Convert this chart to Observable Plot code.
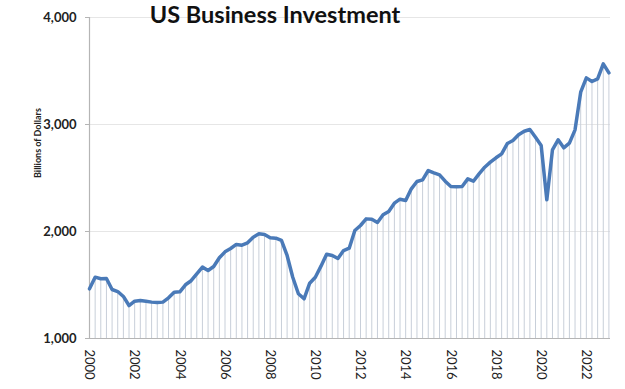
<!DOCTYPE html>
<html>
<head>
<meta charset="utf-8">
<script src="https://cdn.jsdelivr.net/npm/d3@7"></script>
<script src="https://cdn.jsdelivr.net/npm/@observablehq/plot@0.6"></script>
<style>
  html, body { margin: 0; padding: 0; background: #fff; }
  #chart { position: relative; width: 625px; height: 389px; }
</style>
</head>
<body>
<div id="chart"></div>
<script>
const title = "US Business Investment";
const yLabel = "Billions of Dollars";
const startYear = 2000;
// quarterly values, 2000Q1 .. 2023Q1 (billions of dollars)
const values = [
  1464, 1573, 1558, 1561,
  1458, 1439, 1393, 1308,
  1349, 1355, 1349, 1340,
  1336, 1340, 1380, 1433,
  1436, 1502, 1540, 1604,
  1667, 1636, 1673, 1754,
  1810, 1841, 1879, 1872,
  1894, 1947, 1978, 1972,
  1941, 1938, 1916, 1776,
  1573, 1418, 1371, 1517,
  1573, 1676, 1788, 1776,
  1748, 1822, 1844, 2009,
  2056, 2118, 2115, 2084,
  2156, 2187, 2265, 2302,
  2290, 2399, 2467, 2483,
  2570, 2548, 2530, 2470,
  2421, 2418, 2421, 2492,
  2470, 2539, 2601, 2648,
  2689, 2726, 2822, 2850,
  2904, 2937, 2953, 2881,
  2804, 2296, 2763, 2857,
  2782, 2826, 2950, 3302,
  3436, 3402, 3427, 3567,
  3483
];
const xTicks = [2000, 2002, 2004, 2006, 2008, 2010, 2012, 2014, 2016, 2018, 2020, 2022];
const yTicks = [1000, 2000, 3000, 4000];
const gridValues = [2000, 3000, 4000];

const data = values.map((v, i) => ({t: startYear + i / 4, v}));

const plot = Plot.plot({
  width: 625,
  height: 389,
  marginLeft: 89,
  marginRight: 15,
  marginTop: 17,
  marginBottom: 51,
  style: {fontFamily: "Lato, 'Open Sans', sans-serif", background: "#fff", overflow: "visible"},
  x: {domain: [2000, 2023.07]},
  y: {domain: [1000, 4000]},
  marks: [
    Plot.ruleY(gridValues, {stroke: "#e6e6e6", strokeWidth: 1}),
    Plot.ruleX(data, {x: "t", y1: 1000, y2: "v", stroke: "#c8cfd9", strokeWidth: 1}),
    Plot.ruleY([1000], {stroke: "#b5b5b5", strokeWidth: 1.2}),
    Plot.ruleX([2000], {stroke: "#b5b5b5", strokeWidth: 1.2}),
    Plot.line(data, {x: "t", y: "v", stroke: "#4a7ab8", strokeWidth: 3.5, strokeLinejoin: "round", strokeLinecap: "round"}),
    Plot.axisY({ticks: yTicks, tickFormat: d3.format(","), tickSize: 4, tickPadding: 9, fontSize: 13, fontWeight: "bold", color: "#222", stroke: "#b5b5b5", label: null}),
    Plot.axisX({ticks: xTicks, tickFormat: d => String(d), tickRotate: 90, tickSize: 0, tickPadding: 11, fontSize: 13, color: "#222", label: null}),
    Plot.text([yLabel], {frameAnchor: "left", dx: -51, rotate: -90, fontSize: 9, fontWeight: "bold", fill: "#222"}),
    Plot.text([title], {frameAnchor: "top", dx: -75, dy: -11, fontSize: 23.5, fontWeight: "bold", fill: "#111"})
  ]
});
document.getElementById("chart").appendChild(plot);
</script>
</body>
</html>
